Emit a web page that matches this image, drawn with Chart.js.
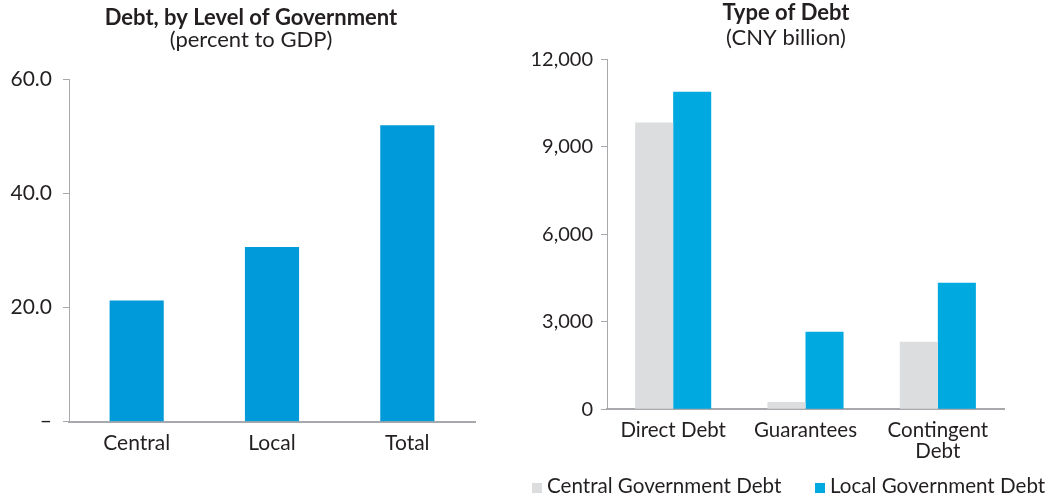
<!DOCTYPE html>
<html><head><meta charset="utf-8">
<script src="https://cdn.jsdelivr.net/npm/chart.js@4.4.0/dist/chart.umd.min.js"></script>
<style>
html,body{margin:0;padding:0;background:#fff;width:1052px;height:498px;overflow:hidden;font-family:Lato,sans-serif;}
#c1{position:absolute;left:0;top:0;}
#c2{position:absolute;left:520px;top:0;}
.lg-box{position:absolute;width:10px;height:10px;top:483px;}
.lg-txt{position:absolute;top:472.7px;font-size:20.6px;line-height:24px;color:#231F20;white-space:nowrap;font-family:Lato,sans-serif;}
</style></head><body>
<canvas id="c1" width="502" height="498"></canvas>
<canvas id="c2" width="532" height="498"></canvas>
<div id="legend"></div>
<script>
// ---- Data ----
const levelCategories = ['Central', 'Local', 'Total'];
const levelValues = [21.2, 30.6, 51.9];

const debtTypes = ['Direct Debt', 'Guarantees', ['Contingent', 'Debt']];
const centralDebt = [9830, 250, 2320];
const localDebt = [10890, 2660, 4340];
const seriesNames = ['Central Government Debt', 'Local Government Debt'];

// ---- Styles ----
const TEXT = '#231F20';
const AXIS = '#A7A9AC';
const BLUE_L = '#009ADA';
const BLUE_R = '#00A9E0';
const GRAY = '#DCDDDE';
const FONT = 'Lato';

Chart.defaults.font.family = FONT;
Chart.defaults.color = TEXT;

const spacerAxis = (w) => ({
  position: 'right', display: true,
  grid: { display: false, drawTicks: false }, border: { display: false },
  ticks: { display: false },
  afterFit: s => { s.width = w; }
});

new Chart(document.getElementById('c1'), {
  type: 'bar',
  data: {
    labels: levelCategories,
    datasets: [{ data: levelValues, backgroundColor: BLUE_L, categoryPercentage: 1, barPercentage: 0.4, yAxisID: 'y' }]
  },
  options: {
    responsive: false, animation: false, devicePixelRatio: 1,
    layout: { padding: 0 },
    plugins: {
      legend: { display: false }, tooltip: { enabled: false },
      title: { display: true, text: 'Debt, by Level of Government', color: TEXT,
        font: { family: FONT, size: 22, weight: 'bold', lineHeight: 1 }, padding: { top: 7.2, bottom: 0 } },
      subtitle: { display: true, text: '(percent to GDP)', color: TEXT,
        font: { family: FONT, size: 22, weight: 'normal', lineHeight: 1 }, padding: { top: 0, bottom: 27.8 } }
    },
    scales: {
      x: {
        grid: { display: false, drawTicks: false },
        border: { display: true, color: AXIS, width: 2 },
        ticks: { color: TEXT, font: { family: FONT, size: 21, lineHeight: 1.05 }, padding: 11 },
        afterFit: s => { s.height = 76.3; }
      },
      y: {
        position: 'left', min: 0, max: 60,
        ticks: { stepSize: 20, callback: v => v === 0 ? '–' : Number(v).toFixed(1), color: TEXT,
          font: { family: FONT, size: 21 }, padding: 11 },
        grid: { drawOnChartArea: false, drawTicks: true, tickLength: 6, color: AXIS, lineWidth: 1 },
        border: { display: true, color: AXIS, width: 1 },
        afterFit: s => { s.width = 69; }
      },
      ySpace: spacerAxis(27)
    }
  }
});

new Chart(document.getElementById('c2'), {
  type: 'bar',
  data: {
    labels: debtTypes,
    datasets: [
      { label: seriesNames[0], data: centralDebt, backgroundColor: GRAY, categoryPercentage: 0.575, barPercentage: 1, yAxisID: 'y' },
      { label: seriesNames[1], data: localDebt, backgroundColor: BLUE_R, categoryPercentage: 0.575, barPercentage: 1, yAxisID: 'y' }
    ]
  },
  options: {
    responsive: false, animation: false, devicePixelRatio: 1,
    layout: { padding: 0 },
    plugins: {
      legend: { display: false }, tooltip: { enabled: false },
      title: { display: true, text: 'Type of Debt', color: TEXT,
        font: { family: FONT, size: 22, weight: 'bold', lineHeight: 1 }, padding: { top: 2.2, bottom: 0 } },
      subtitle: { display: true, text: '(CNY billion)', color: TEXT,
        font: { family: FONT, size: 22, weight: 'normal', lineHeight: 1 }, padding: { top: 3, bottom: 10.1 } }
    },
    scales: {
      x: {
        grid: { display: false, drawTicks: false },
        border: { display: true, color: AXIS, width: 2 },
        ticks: { color: TEXT, font: { family: FONT, size: 20.5, lineHeight: 1.03 }, padding: 10.5 },
        afterFit: s => { s.height = 88.7; }
      },
      y: {
        position: 'left', min: 0, max: 12000,
        ticks: { stepSize: 3000, callback: v => Number(v).toLocaleString('en-US'), color: TEXT,
          font: { family: FONT, size: 20 }, padding: 8 },
        grid: { drawOnChartArea: false, drawTicks: true, tickLength: 6, color: AXIS, lineWidth: 1 },
        border: { display: true, color: AXIS, width: 1 },
        afterFit: s => { s.width = 87; }
      },
      ySpace: spacerAxis(48)
    }
  }
});

// ---- HTML legend for right chart ----
const legendColors = [GRAY, BLUE_R];
const legendBoxX = [532, 815];
const lg = document.getElementById('legend');
seriesNames.forEach((name, i) => {
  const b = document.createElement('div');
  b.className = 'lg-box';
  b.style.left = legendBoxX[i] + 'px';
  b.style.background = legendColors[i];
  lg.appendChild(b);
  const t = document.createElement('div');
  t.className = 'lg-txt';
  t.style.left = (legendBoxX[i] + 15) + 'px';
  t.textContent = name;
  lg.appendChild(t);
});
</script>
</body></html>
